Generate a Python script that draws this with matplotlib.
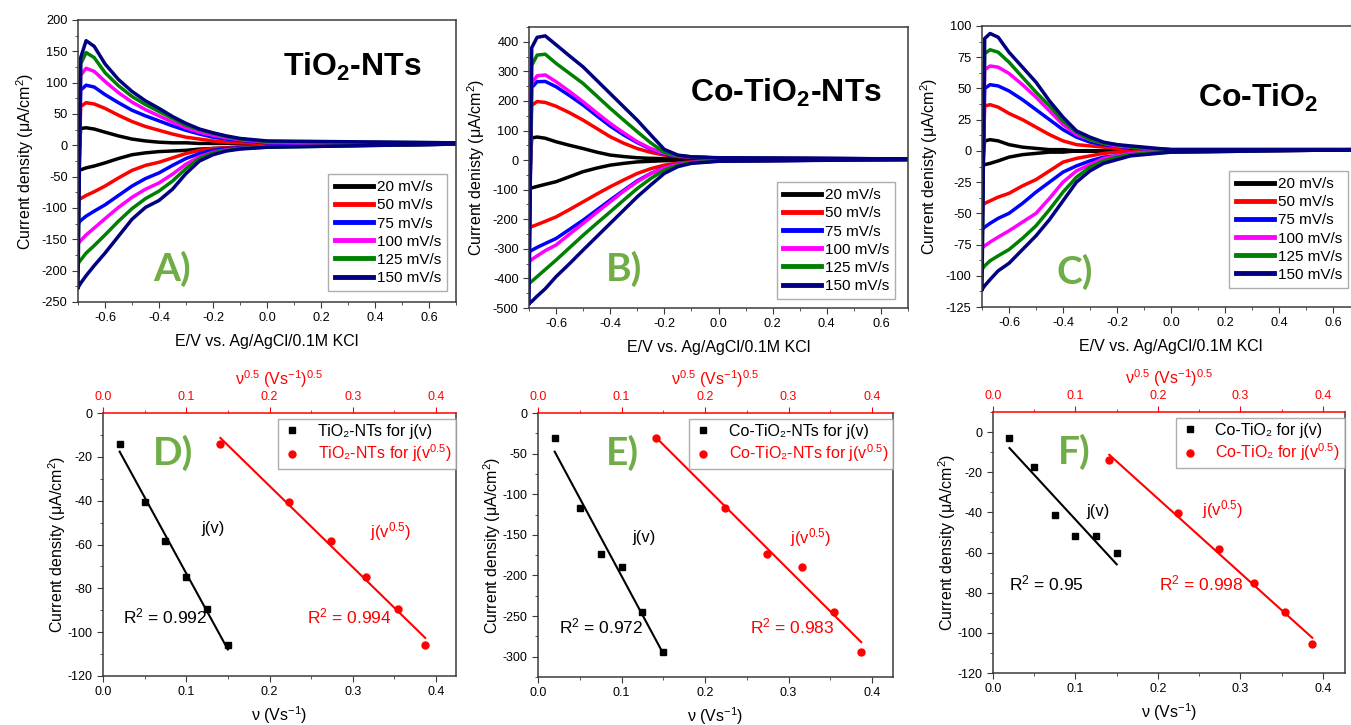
import numpy as np
import matplotlib
matplotlib.use("Agg")
import matplotlib.pyplot as plt
from matplotlib.ticker import MultipleLocator

plt.rcParams['font.family'] = ['Liberation Sans', 'DejaVu Sans']
plt.rcParams['mathtext.fontset'] = 'custom'
plt.rcParams['mathtext.rm'] = 'Liberation Sans'
plt.rcParams['mathtext.it'] = 'Liberation Sans:italic'
plt.rcParams['mathtext.bf'] = 'Liberation Sans:bold'
plt.rcParams['axes.unicode_minus'] = False

# ---- cyclic voltammograms (top row) ----
RATES = ['20 mV/s', '50 mV/s', '75 mV/s', '100 mV/s', '125 mV/s', '150 mV/s']
COLORS = ['black', 'red', 'blue', 'magenta', 'green', 'navy']
E = [-0.70, -0.69, -0.67, -0.64, -0.60, -0.55, -0.50, -0.45, -0.40,
     -0.35, -0.30, -0.25, -0.20, -0.15, -0.10, 0.00, 0.70]

# anodic (upper) and cathodic (lower) branches, one row per scan rate
TIO2_NT_UP = [
    [-40, 27, 28, 26, 21, 15, 10, 7, 5, 4, 4, 3, 3, 3, 3, 3, 3],
    [-88, 62, 68, 66, 59, 48, 38, 30, 24, 18, 13, 10, 7, 5, 4, 3, 3],
    [-125, 88, 96, 93, 81, 68, 56, 47, 39, 31, 24, 18, 13, 10, 8, 4, 3],
    [-157, 112, 123, 118, 102, 84, 69, 57, 47, 37, 28, 21, 16, 12, 9, 5, 4],
    [-189, 130, 148, 140, 116, 95, 78, 65, 54, 43, 32, 25, 19, 14, 10, 6, 4],
    [-227, 140, 167, 158, 130, 105, 86, 71, 59, 46, 35, 26, 20, 15, 11, 7, 4],
]
TIO2_NT_DOWN = [
    [-40, -39, -36, -33, -28, -21, -15, -12, -10, -9, -8, -6, -5, -4, -3, -1, 2],
    [-88, -85, -80, -74, -65, -52, -40, -32, -27, -20, -13, -8, -5, -4, -3, -1, 2],
    [-125, -120, -113, -105, -95, -80, -65, -53, -44, -32, -21, -13, -8, -5, -4, -2, 2],
    [-157, -152, -143, -132, -117, -99, -83, -70, -60, -46, -30, -18, -11, -7, -5, -2, 2],
    [-189, -183, -172, -160, -143, -121, -101, -85, -73, -57, -37, -21, -12, -8, -5, -3, 2],
    [-227, -220, -208, -192, -172, -145, -118, -99, -88, -70, -45, -25, -15, -9, -6, -3, 2],
]
CO_TIO2_NT_UP = [
    [-96, 75, 78, 74, 62, 50, 39, 27, 17, 12, 8, 6, 5, 5, 5, 4, 3],
    [-228, 185, 198, 195, 182, 160, 135, 107, 79, 57, 39, 26, 17, 12, 9, 6, 4],
    [-310, 245, 265, 266, 248, 218, 186, 150, 115, 85, 59, 37, 20, 13, 10, 7, 4],
    [-344, 260, 285, 288, 265, 232, 197, 160, 124, 92, 62, 39, 23, 14, 11, 7, 4],
    [-417, 320, 355, 358, 327, 293, 259, 217, 175, 135, 96, 58, 26, 15, 11, 7, 4],
    [-485, 380, 415, 420, 390, 352, 315, 270, 225, 180, 135, 85, 36, 17, 11, 8, 4],
]
CO_TIO2_NT_DOWN = [
    [-96, -94, -89, -82, -73, -56, -39, -27, -17, -11, -6, -4, -2, -1, -1, 0, 2],
    [-228, -225, -218, -207, -192, -167, -141, -115, -90, -67, -45, -29, -17, -10, -6, -2, 2],
    [-310, -305, -295, -282, -265, -234, -203, -169, -135, -102, -70, -45, -26, -14, -8, -3, 2],
    [-344, -336, -324, -306, -287, -250, -214, -177, -141, -105, -73, -46, -26, -14, -8, -3, 2],
    [-417, -410, -394, -370, -338, -296, -254, -214, -175, -135, -96, -62, -34, -17, -9, -3, 2],
    [-485, -478, -460, -435, -394, -350, -304, -259, -214, -169, -124, -84, -45, -22, -11, -4, 2],
]
CO_TIO2_UP = [
    [-12, 8, 9, 8, 5, 3, 2, 1, 1, 0, 0, 0, 0, 0, 0, 0, 1],
    [-44, 36, 37, 35, 30, 25, 19, 13, 8, 5, 4, 3, 2, 1, 1, 1, 1],
    [-63, 50, 53, 52, 48, 41, 33, 25, 17, 11, 7, 5, 4, 2, 2, 1, 1],
    [-78, 65, 68, 67, 62, 53, 43, 32, 21, 13, 9, 6, 4, 3, 2, 1, 1],
    [-95, 78, 81, 79, 71, 59, 47, 36, 24, 15, 9, 6, 5, 3, 2, 1, 1],
    [-111, 90, 94, 91, 79, 67, 55, 40, 27, 16, 11, 7, 5, 4, 3, 1, 1],
]
CO_TIO2_DOWN = [
    [-12, -11, -10, -8, -5, -3, -2, -1, -1, 0, 0, 0, 0, 0, 0, 0, 1],
    [-44, -42, -40, -37, -34, -28, -23, -16, -9, -6, -4, -2, -1, -1, -1, 0, 1],
    [-63, -61, -58, -54, -50, -42, -33, -25, -17, -12, -8, -5, -4, -2, -1, 0, 1],
    [-78, -76, -73, -69, -64, -57, -50, -38, -25, -16, -11, -6, -4, -2, -1, -1, 1],
    [-95, -92, -88, -84, -79, -70, -60, -47, -33, -21, -13, -8, -5, -3, -2, -1, 1],
    [-111, -108, -103, -96, -90, -79, -68, -55, -40, -25, -16, -10, -7, -4, -3, -1, 1],
]

# ---- peak current vs scan rate (bottom row) ----
NU = [0.02, 0.05, 0.075, 0.1, 0.125, 0.15]
NU_SQRT = [0.141, 0.224, 0.274, 0.316, 0.354, 0.387]
J_TIO2_NT_V = [-14, -40.5, -58.5, -75, -89.5, -106]
J_TIO2_NT_SQ = [-14, -40.5, -58.5, -75, -89.5, -106]
J_CO_TIO2_NT_V = [-31, -117, -174, -190, -245, -294]
J_CO_TIO2_NT_SQ = [-31, -117, -174, -190, -245, -294]
J_CO_TIO2_V = [-3, -17.5, -41.5, -52, -52, -60]
J_CO_TIO2_SQ = [-13.8, -40.5, -58.4, -75, -89.5, -105.6]

GREEN = '#70ad47'
SPINE = '#3a3a3a'


def style_spines(ax):
    for s in ax.spines.values():
        s.set_color(SPINE)
        s.set_linewidth(1.1)


def cv_panel(ax, up, down, ylim, ymaj, ylabel, title, tag, title_xy, tag_xy, leg_anchor):
    for yu, yd, c, lab in zip(up, down, COLORS, RATES):
        x = E + E[::-1]
        y = yu + yd[::-1]
        ax.plot(x, y, color=c, lw=2.5, label=lab, solid_joinstyle='round')
    ax.set_xlim(-0.7, 0.7)
    ax.set_ylim(*ylim)
    ax.xaxis.set_major_locator(MultipleLocator(0.2))
    ax.xaxis.set_minor_locator(MultipleLocator(0.1))
    ax.yaxis.set_major_locator(MultipleLocator(ymaj))
    ax.yaxis.set_minor_locator(MultipleLocator(ymaj / 2))
    ax.tick_params(which='both', direction='out', labelsize=9.2, color=SPINE)
    ax.tick_params(which='major', length=4)
    ax.tick_params(which='minor', length=2.5)
    style_spines(ax)
    ax.set_xlabel('E/V vs. Ag/AgCl/0.1M KCl', fontsize=11.5, labelpad=7)
    ax.set_ylabel(ylabel, fontsize=11.5, labelpad=4)
    ax.text(*title_xy, title, transform=ax.transAxes, fontsize=23,
            fontweight='bold', va='baseline')
    ax.text(*tag_xy, tag, transform=ax.transAxes, fontsize=28, color=GREEN,
            fontweight='bold', family=['Lato', 'DejaVu Sans'], va='center')
    leg = ax.legend(loc='lower right', bbox_to_anchor=leg_anchor, borderaxespad=0,
                    fontsize=11, frameon=True, fancybox=False, edgecolor='#999999',
                    handlelength=2.5, handletextpad=0.25, labelspacing=0.27,
                    borderpad=0.4)
    leg.get_frame().set_linewidth(1.0)
    for ln in leg.get_lines():
        ln.set_linewidth(3.5)


def rate_panel(ax, jv, jsq, ylim, ymaj, xmax, name, tag, tag_xy, jv_xy, jsq_xy,
               r2v, r2v_xy, r2sq, r2sq_xy):
    ax2 = ax.twiny()
    kv = np.polyfit(NU, jv, 1)
    ksq = np.polyfit(NU_SQRT, jsq, 1)
    ax.plot([NU[0], NU[-1]], np.polyval(kv, [NU[0], NU[-1]]), color='black', lw=1.5, zorder=2)
    h1, = ax.plot(NU, jv, 's', color='black', ms=4.5, zorder=3,
                  label=name + ' for j(v)')
    ax2.plot([NU_SQRT[0], NU_SQRT[-1]], np.polyval(ksq, [NU_SQRT[0], NU_SQRT[-1]]),
             color='red', lw=1.5, zorder=2)
    h2, = ax2.plot(NU_SQRT, jsq, 'o', color='red', ms=5, zorder=3,
                   label=name + ' for j(v$^{0.5}$)')
    for a in (ax, ax2):
        a.set_xlim(0, xmax)
        a.xaxis.set_major_locator(MultipleLocator(0.1))
        a.xaxis.set_minor_locator(MultipleLocator(0.05))
    ax.set_ylim(*ylim)
    ax.yaxis.set_major_locator(MultipleLocator(ymaj))
    ax.yaxis.set_minor_locator(MultipleLocator(ymaj / 2))
    ax.tick_params(which='both', direction='out', labelsize=9, color=SPINE, top=False)
    ax.tick_params(which='major', length=4)
    ax.tick_params(which='minor', length=2.5)
    ax2.tick_params(axis='x', which='both', direction='out', labelsize=9,
                    colors='red')
    ax2.tick_params(which='major', length=4)
    ax2.tick_params(which='minor', length=2.5)
    style_spines(ax)
    ax.spines['top'].set_visible(False)
    for s in ('bottom', 'left', 'right'):
        ax2.spines[s].set_visible(False)
    ax2.spines['top'].set_color('red')
    ax2.spines['top'].set_linewidth(1.1)
    ax.set_xlabel('ν (Vs$^{-1}$)', fontsize=11.5, labelpad=4)
    ax.set_ylabel('Current density (μA/cm$^2$)', fontsize=11.5, labelpad=0)
    ax2.set_xlabel('ν$^{0.5}$ (Vs$^{-1}$)$^{0.5}$', fontsize=11.5, color='red', labelpad=4)

    ax2.text(*tag_xy, tag, transform=ax.transAxes, fontsize=28, color=GREEN,
             fontweight='bold', family=['Lato', 'DejaVu Sans'], va='center')
    ax2.text(*jv_xy, 'j(v)', transform=ax.transAxes, fontsize=12, va='center')
    ax2.text(*jsq_xy, 'j(v$^{0.5}$)', transform=ax.transAxes, fontsize=12,
             va='center', color='red')
    ax2.text(*r2v_xy, 'R$^2$ = ' + r2v, transform=ax.transAxes, fontsize=12.5, va='center')
    ax2.text(*r2sq_xy, 'R$^2$ = ' + r2sq, transform=ax.transAxes, fontsize=12.5,
             va='center', color='red')
    leg = ax2.legend(handles=[h1, h2], loc='upper right', bbox_to_anchor=(1.0, 0.978),
                     borderaxespad=0, fontsize=11.5, frameon=True, fancybox=False,
                     edgecolor='#999999', handlelength=1.2, handletextpad=1.0,
                     labelspacing=0.25, borderpad=0.3, labelcolor=['black', 'red'])
    leg.get_frame().set_linewidth(1.0)


fig = plt.figure(figsize=(13.51, 7.25), dpi=100)

axA = fig.add_axes([78 / 1351, 1 - 302 / 725, 378 / 1351, 282 / 725])
axB = fig.add_axes([529 / 1351, 1 - 308 / 725, 379 / 1351, 281 / 725])
axC = fig.add_axes([982 / 1351, 1 - 307 / 725, 378 / 1351, 281 / 725])
axD = fig.add_axes([103 / 1351, 1 - 676 / 725, 353 / 1351, 263 / 725])
axE = fig.add_axes([538 / 1351, 1 - 677 / 725, 355 / 1351, 264 / 725])
axF = fig.add_axes([993 / 1351, 1 - 673 / 725, 352 / 1351, 261 / 725])

cv_panel(axA, TIO2_NT_UP, TIO2_NT_DOWN, (-250, 200), 50,
         'Current density (μA/cm$^2$)', r'TiO$_\mathbf{2}$-NTs', 'A)',
         (0.542, 0.80), (0.198, 0.117), (0.976, 0.039))
cv_panel(axB, CO_TIO2_NT_UP, CO_TIO2_NT_DOWN, (-500, 450), 100,
         'Current denisty (μA/cm$^2$)', r'Co-TiO$_\mathbf{2}$-NTs', 'B)',
         (0.425, 0.733), (0.203, 0.139), (0.966, 0.032))
cv_panel(axC, CO_TIO2_UP, CO_TIO2_DOWN, (-125, 100), 25,
         'Current denisty (μA/cm$^2$)', r'Co-TiO$_\mathbf{2}$', 'C)',
         (0.571, 0.712), (0.198, 0.125), (0.968, 0.068))

rate_panel(axD, J_TIO2_NT_V, J_TIO2_NT_SQ, (-120, 0), 20, 0.424, 'TiO₂-NTs', 'D)',
           (0.142, 0.85), (0.28, 0.559), (0.756, 0.55),
           '0.992', (0.057, 0.228), '0.994', (0.578, 0.228))
rate_panel(axE, J_CO_TIO2_NT_V, J_CO_TIO2_NT_SQ, (-325, 0), 50, 0.425, 'Co-TiO₂-NTs', 'E)',
           (0.19, 0.85), (0.265, 0.527), (0.71, 0.53),
           '0.972', (0.059, 0.19), '0.983', (0.597, 0.19))
rate_panel(axF, J_CO_TIO2_V, J_CO_TIO2_SQ, (-120, 10), 20, 0.4267, 'Co-TiO₂', 'F)',
           (0.185, 0.847), (0.264, 0.62), (0.594, 0.625),
           '0.95', (0.045, 0.345), '0.998', (0.472, 0.345))

fig.savefig('out.png', dpi=100)
